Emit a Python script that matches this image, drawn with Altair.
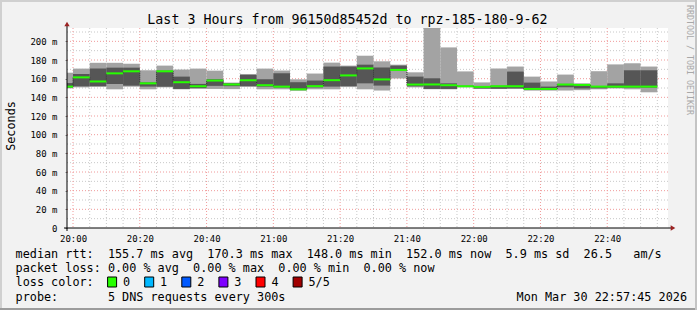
import altair as alt
import pandas as pd

# ---------------- data ----------------
bin_start = ["19:55", "20:00", "20:05", "20:10", "20:15", "20:20", "20:25", "20:30", "20:35",
             "20:40", "20:45", "20:50", "20:55", "21:00", "21:05", "21:10", "21:15", "21:20",
             "21:25", "21:30", "21:35", "21:40", "21:45", "21:50", "21:55", "22:00", "22:05",
             "22:10", "22:15", "22:20", "22:25", "22:30", "22:35", "22:40", "22:45", "22:50"]
rtt_min = [149.6, 150.7, 151.5, 148.6, 151.4, 148.6, 150.7, 148.6, 149.0, 149.0, 148.8, 151.5,
           148.6, 148.6, 147.0, 148.6, 148.6, 151.0, 148.6, 147.3, 160.2, 150.7, 148.6, 148.6,
           150.8, 149.0, 149.0, 149.0, 147.2, 147.2, 147.3, 147.7, 148.6, 149.5, 148.6, 145.4]
rtt_q1 = [150.4, 151.8, 151.8, 154.3, 152.5, 151.5, 151.4, 149.0, 150.0, 152.3, 152.0, 151.8,
          151.5, 150.5, 148.2, 150.6, 151.5, 152.0, 155.0, 152.6, 169.0, 151.8, 149.0, 149.0,
          151.0, 149.5, 149.2, 149.6, 148.0, 148.0, 150.8, 149.5, 149.7, 150.4, 150.4, 150.4]
rtt_med = [151.5, 161.4, 157.0, 165.7, 167.9, 155.0, 167.9, 156.2, 151.9, 158.0, 153.8, 158.3,
           153.0, 151.5, 148.6, 152.0, 158.4, 163.5, 171.0, 159.2, 169.4, 153.7, 153.8, 153.0,
           151.9, 151.2, 151.9, 151.9, 149.0, 149.0, 153.7, 153.3, 151.5, 151.5, 151.5, 151.5]
rtt_q3 = [155.3, 165.0, 170.9, 171.8, 171.8, 156.0, 168.6, 162.2, 154.4, 159.4, 155.0, 164.4,
          159.4, 165.8, 156.2, 158.0, 173.0, 173.0, 175.0, 172.0, 174.0, 162.2, 160.4, 155.0,
          152.5, 152.0, 152.5, 167.6, 155.8, 151.5, 154.4, 153.5, 152.2, 155.0, 169.0, 169.0]
rtt_max = [166.4, 170.8, 177.0, 177.0, 176.0, 169.0, 174.0, 169.8, 170.8, 168.6, 155.8, 164.5,
           170.8, 168.7, 159.3, 165.5, 177.2, 174.0, 184.6, 178.6, 175.0, 166.8, 214.3, 193.5,
           167.8, 156.0, 170.9, 173.0, 162.2, 157.0, 164.4, 155.0, 168.0, 175.3, 176.5, 173.0]

y_major = [20, 40, 60, 80, 100, 120, 140, 160, 180, 200]
y_minor = [10, 30, 50, 70, 90, 110, 130, 150, 170, 190, 210]
y_ticks = [0, 20, 40, 60, 80, 100, 120, 140, 160, 180, 200]
x_major = ["20:00", "20:20", "20:40", "21:00", "21:20", "21:40", "22:00", "22:20", "22:40"]

title_text = "Last 3 Hours from 96150d85452d to rpz-185-180-9-62"
legend_rows = [
    ["median rtt:", "155.7 ms avg", "170.3 ms max", "148.0 ms min", "152.0 ms now", "5.9 ms sd", "26.5", "am/s"],
    ["packet loss:", "0.00 % avg", "0.00 % max", "0.00 % min", "0.00 % now"],
]
loss_labels = ["0", "1", "2", "3", "4", "5/5"]
loss_colors = ["#26ff00", "#00b8ff", "#0059ff", "#7e00ff", "#ff0000", "#a10000"]
probe_text = "5 DNS requests every 300s"
date_text = "Mon Mar 30 22:57:45 2026"

DAY = "2026-03-30 "
def ts(s):
    return pd.Timestamp(DAY + s)

df = pd.DataFrame({
    "start": [ts(s) for s in bin_start],
    "mn": rtt_min, "q1": rtt_q1, "med": rtt_med, "q3": rtt_q3, "mx": rtt_max,
})
df["end"] = df["start"] + pd.Timedelta(minutes=5)
conn = pd.DataFrame({"t": df["start"].iloc[1:].values,
                     "a": df["med"].iloc[:-1].values,
                     "b": df["med"].iloc[1:].values})

minor_x = [t for t in pd.date_range(ts("20:00"), ts("22:55"), freq="5min")
           if t.minute % 20 != 0]
gx_minor = pd.DataFrame({"t": minor_x})
gx_major = pd.DataFrame({"t": [ts(s) for s in x_major]})
gy_minor = pd.DataFrame({"v": y_minor})
gy_major = pd.DataFrame({"v": y_major})
one = pd.DataFrame({"k": [0]})

MONO = "DejaVu Sans Mono"
W, H = 601, 200
LEFT, TOP = 67, 28

xscale = alt.Scale(domain=[alt.DateTime(year=2026, month=3, date=30, hours=19, minutes=58, seconds=12),
                           alt.DateTime(year=2026, month=3, date=30, hours=22, minutes=58, seconds=12)])
yscale = alt.Scale(domain=[0, 214.3], nice=False, zero=True)

xaxis = alt.Axis(values=[alt.DateTime(year=2026, month=3, date=30, hours=int(s[:2]), minutes=int(s[3:]))
                         for s in x_major],
                 format="%H:%M", labelFont=MONO, labelFontSize=9, labelColor="#000",
                 domain=False, ticks=False, grid=False, labelPadding=6, title=None,
                 labelFlush=False, labelOverlap=False)
yaxis = alt.Axis(values=y_ticks, labelExpr="datum.value == 0 ? '0\u00a0\u00a0' : datum.value + ' m'",
                 labelFont=MONO, labelFontSize=9, labelColor="#000", domain=False,
                 ticks=True, tickSize=2, tickColor="#888", grid=False, labelPadding=8, title=None)

X = lambda f: alt.X(f, type="temporal", scale=xscale, axis=xaxis)
Y = lambda f: alt.Y(f, type="quantitative", scale=yscale, axis=yaxis)

# grid
g1 = alt.Chart(gx_minor).mark_rule(color="#c8c8c8", strokeDash=[1, 2], strokeWidth=1).encode(
    x=X("t"), y=alt.value(0), y2=alt.value(H))
g2 = alt.Chart(gy_minor).mark_rule(color="#c8c8c8", strokeDash=[1, 2], strokeWidth=1).encode(
    y=Y("v"), x=alt.value(0), x2=alt.value(W))
g3 = alt.Chart(gx_major).mark_rule(color="#f09a9a", strokeDash=[1, 2], strokeWidth=1).encode(
    x=X("t"), y=alt.value(0), y2=alt.value(H))
g4 = alt.Chart(gy_major).mark_rule(color="#f09a9a", strokeDash=[1, 2], strokeWidth=1).encode(
    y=Y("v"), x=alt.value(0), x2=alt.value(W))

# smoke
light = alt.Chart(df).mark_rect(color="#a3a3a3", clip=True).encode(
    x=X("start"), x2="end", y=Y("mn"), y2="mx")
dark = alt.Chart(df).mark_rect(color="#565656", clip=True).encode(
    x=X("start"), x2="end", y=Y("q1"), y2="q3")
steps = alt.Chart(conn).mark_rule(color="#222", strokeDash=[1, 1], strokeWidth=1).encode(
    x=X("t"), y=Y("a"), y2="b")
median = alt.Chart(df).mark_rule(color="#26ff00", strokeWidth=2, clip=True).encode(
    x=X("start"), x2="end", y=Y("med"))

# axis lines and arrows
xline = alt.Chart(one).mark_rule(color="#000", strokeWidth=1).encode(
    x=alt.value(-3), x2=alt.value(W + 5), y=alt.value(H))
yline = alt.Chart(one).mark_rule(color="#000", strokeWidth=1).encode(
    x=alt.value(0), y=alt.value(H + 3), y2=alt.value(-4))
xarrow = alt.Chart(one).mark_point(shape="triangle-right", filled=True, color="#9b2222", size=28, opacity=1).encode(
    x=alt.value(W + 5), y=alt.value(H))
yarrow = alt.Chart(one).mark_point(shape="triangle-up", filled=True, color="#9b2222", size=28, opacity=1).encode(
    x=alt.value(0), y=alt.value(-4))

FS = 11.8
def txt(s, x, y, size=FS, align="left", color="#000", angle=0):
    return alt.Chart(one).mark_text(text=s, align=align, baseline="middle", font=MONO,
                                    fontSize=size, color=color, angle=angle).encode(
        x=alt.value(x - LEFT), y=alt.value(y - TOP))

ADV = 7.1
X0 = 15.6
texts = [
    txt(title_text, 347.5, 19.5, size=13.3, align="center"),
    txt("Seconds", 11, 126, size=FS, align="center", angle=270),
    txt("RRDTOOL / TOBI OETIKER", 689, 60, size=8.3, align="center", color="#a8a8a8", angle=90),
]
cols1 = [0, 13, 27, 41, 55, 69, 80, 87]
for s, c in zip(legend_rows[0], cols1):
    texts.append(txt(s, X0 + c * ADV, 254))
cols2 = [0, 13, 25, 37, 49]
for s, c in zip(legend_rows[1], cols2):
    texts.append(txt(s, X0 + c * ADV, 268.3))
texts.append(txt("loss color:", X0, 282))
boxes = []
for i, (lab, colr) in enumerate(zip(loss_labels, loss_colors)):
    bx = 107.6 + i * 37.1
    boxes.append(alt.Chart(one).mark_rect(fill=colr, stroke="#000", strokeWidth=1).encode(
        x=alt.value(bx - LEFT), x2=alt.value(bx + 9 - LEFT),
        y=alt.value(277 - TOP), y2=alt.value(287 - TOP)))
    texts.append(txt(lab, bx + 15.4, 282))
texts.append(txt("probe:", X0, 296.5))
texts.append(txt(probe_text, X0 + 13 * ADV, 296.5))
texts.append(txt(date_text, 687, 296.5, align="right"))

# frame around the image
frame = [
    alt.Chart(one).mark_rule(color="#d0d0d0", strokeWidth=2).encode(
        x=alt.value(-LEFT), x2=alt.value(697 - LEFT), y=alt.value(1 - TOP)),
    alt.Chart(one).mark_rule(color="#d0d0d0", strokeWidth=2).encode(
        x=alt.value(1 - LEFT), y=alt.value(-TOP), y2=alt.value(310 - TOP)),
    alt.Chart(one).mark_rule(color="#9c9c9c", strokeWidth=2).encode(
        x=alt.value(-LEFT), x2=alt.value(697 - LEFT), y=alt.value(309 - TOP)),
    alt.Chart(one).mark_rule(color="#c4c4c4", strokeWidth=2).encode(
        x=alt.value(696 - LEFT), y=alt.value(-TOP), y2=alt.value(310 - TOP)),
]

chart = alt.layer(
    g1, g2, g3, g4, light, dark, steps, median, xline, yline, xarrow, yarrow,
    *boxes, *texts, *frame
).properties(
    width=W, height=H,
    padding={"left": LEFT, "top": TOP, "right": 697 - LEFT - W, "bottom": 310 - TOP - H},
    autosize=alt.AutoSizeParams(type="none"),
).configure(background="#f2f2f2").configure_view(fill="#ffffff", stroke=None)

chart.save("out.html", embed_options={"renderer": "svg", "actions": False})
